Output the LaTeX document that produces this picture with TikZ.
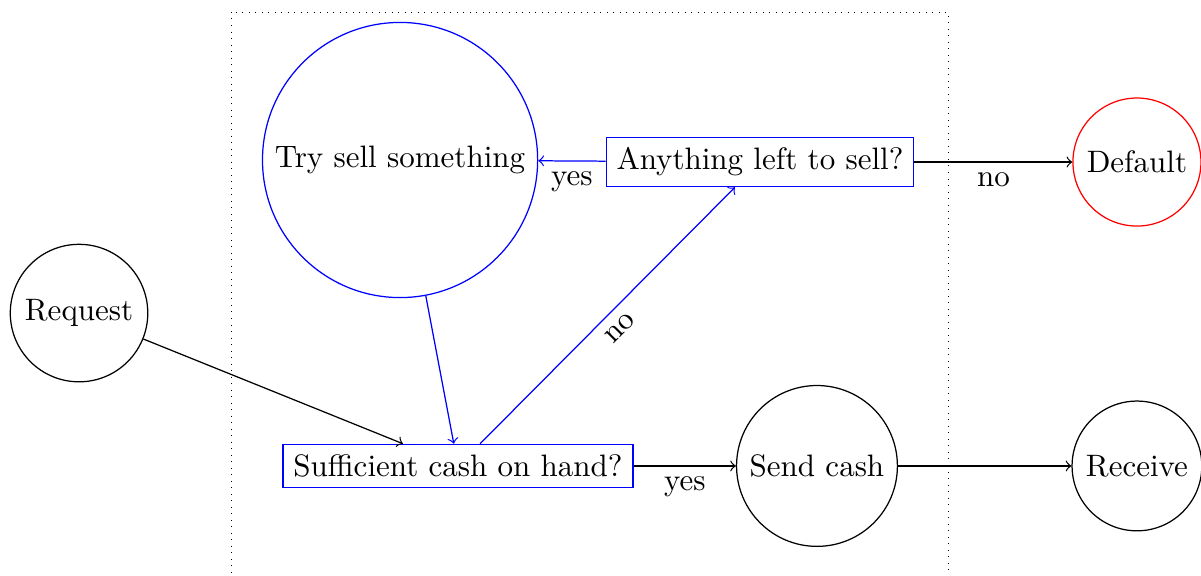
\documentclass[tikz,border=0pt]{standalone}
\usepackage{tikz}
\usetikzlibrary{calc}

\begin{document}
\begin{tikzpicture}[roundnode/.style={circle, draw=black}, roundnode2/.style={circle, draw=blue}, roundnode3/.style={circle, draw=red}, boxnode/.style={rectangle, draw=blue}]
			\node[boxnode] (sufficient) at (0,0) {Sufficient cash on hand?};
			\useasboundingbox ($(sufficient)+(-5.192,5.282)$) rectangle ($(sufficient)+(8.422,-1.247)$);

			\node[roundnode] (request) at ($(sufficient)+(-4.296,1.733)$) {Request};
			\node[roundnode2] (trysell) at ($(sufficient)+(-0.657,3.468)$) {Try sell something};
			\node[boxnode] (anything) at ($(sufficient)+(3.423,3.445)$) {Anything left to sell?};
			\node[roundnode3] (default) at ($(sufficient)+(7.696,3.445)$) {Default};
			\node[roundnode] (sendcash) at ($(sufficient)+(4.069,0)$) {Send cash};
			\node[roundnode] (receive) at ($(sufficient)+(7.696,0)$) {Receive};

			\coordinate (box1) at ($(sufficient)+(-2.573,5.146)$);
			\coordinate (box2) at ($(sufficient)+(5.554,-1.700)$);
			\draw[ultra thin, dotted] (box1) rectangle (box2);

			\draw[black, ->] (request) -- (sufficient);
			\draw[blue, ->] (trysell) -- (sufficient);
			\draw[blue, ->] (sufficient) -- node[below, sloped, black]{no} (anything);
			\draw[blue, ->] (anything) -- node[below, black]{yes} (trysell);
			\draw[black, ->] (anything) -- node[below]{no} (default);
			\draw[black, ->] (sufficient) -- node[below]{yes} (sendcash);
			\draw[black, ->] (sendcash) -- (receive);

		\end{tikzpicture}
\end{document}
